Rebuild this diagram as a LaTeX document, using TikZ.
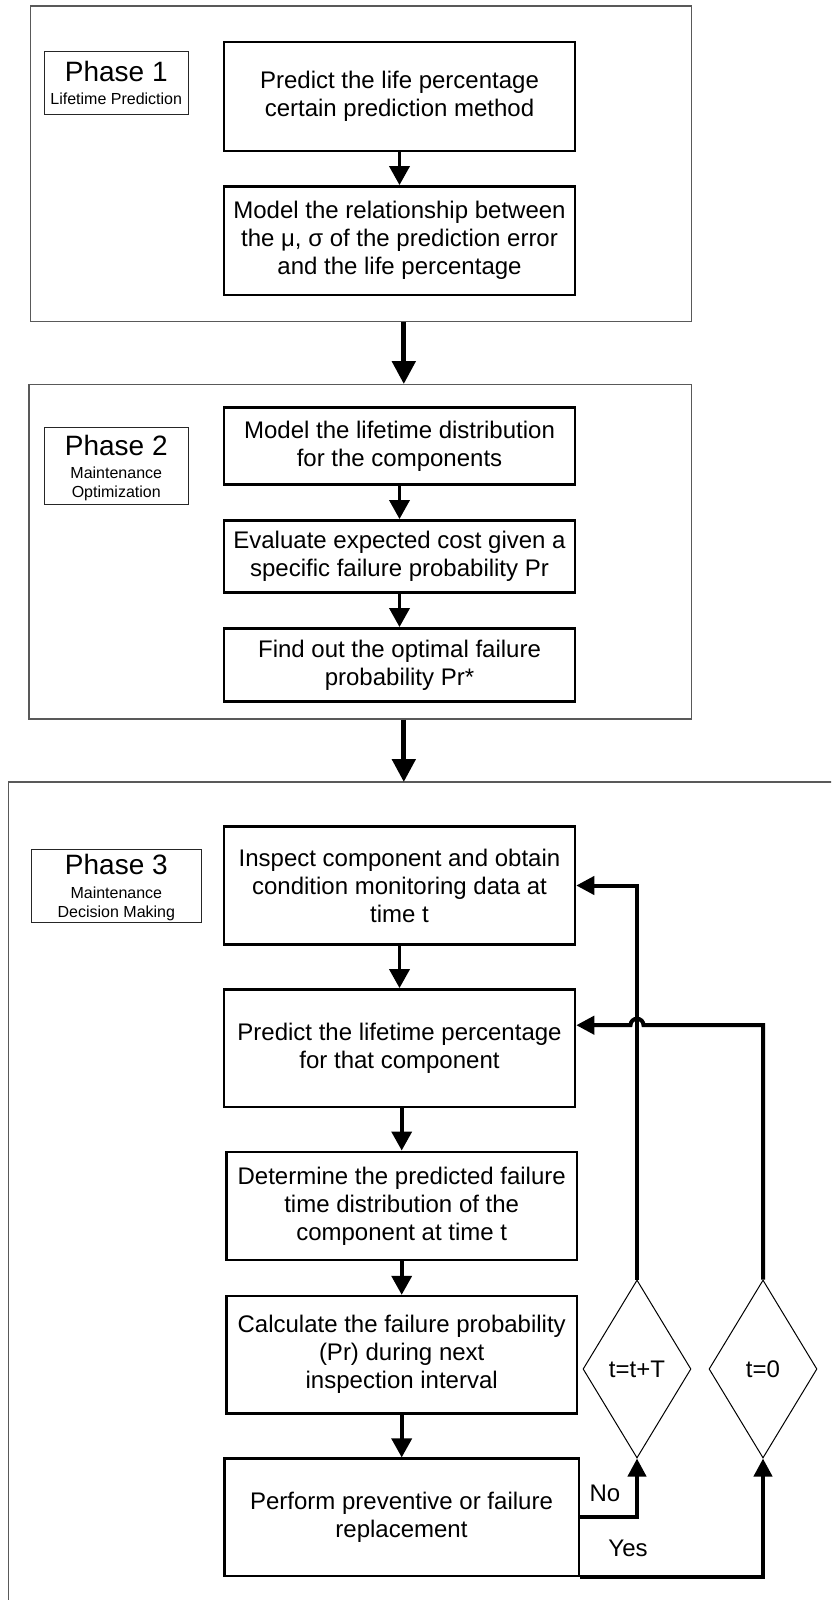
\documentclass[tikz,border=0pt]{standalone}
\usepackage{fontspec}
\setmainfont{Liberation Sans}
\usetikzlibrary{arrows.meta,shapes.geometric,calc}
\begin{document}
\begin{tikzpicture}[x=1pt,y=-1pt,
  box/.style={draw, line width=2.5pt, minimum width=351pt, inner sep=0pt, align=center, font=\fontsize{24}{28}\selectfont},
  phasebox/.style={draw=black!65, line width=1.3pt, inner sep=0pt},
  labbox/.style={draw=black!85, line width=1pt, inner sep=0pt},
  bigtxt/.style={font=\fontsize{28}{32}\selectfont, anchor=base, inner sep=0pt},
  smalltxt/.style={font=\fontsize{16}{19}\selectfont, anchor=base, inner sep=0pt},
  arr/.style={line width=3.7pt, -{Triangle[length=19pt,width=20pt]}},
  fbarr/.style={line width=4pt, -{Triangle[length=18pt,width=18pt]}},
  bigarr/.style={line width=5pt, -{Triangle[length=23pt,width=23pt]}},
  dec/.style={diamond, draw, line width=1pt, inner sep=0pt, minimum width=108pt, minimum height=178pt, font=\fontsize{24}{28}\selectfont},
  lbl/.style={font=\fontsize{24}{28}\selectfont, inner sep=0pt}]
\useasboundingbox (0,0) rectangle (831,1600);
\fill[white] (0,0) rectangle (831,1600);

% Phase containers
\node[phasebox, minimum width=661pt, minimum height=315.7pt] (P1) at (361.15,163.85) {};
\node[phasebox, minimum width=662.5pt, minimum height=334.3pt] (P2) at (360.35,551.85) {};
\begin{scope}
  \clip (0,0) rectangle (831,1600);
  \draw[draw=black!65, line width=1.3pt] (8.5,1660) -- (8.5,782) -- (900,782);
\end{scope}
\coordinate (p3n) at (403.8,782);

% Phase labels
\node[labbox, minimum width=143.5pt, minimum height=63pt] (L1) at (116.25,82.8) {};
\node[bigtxt] (L1a) at (116.25,81.7) {Phase 1};
\node[smalltxt] (L1b) at (116.25,104.7) {Lifetime Prediction};

\node[labbox, minimum width=143.5pt, minimum height=77pt] (L2) at (116.25,466.2) {};
\node[bigtxt] (L2a) at (116.25,455) {Phase 2};
\node[smalltxt] (L2b) at (116.25,478.4) {Maintenance};
\node[smalltxt] (L2c) at (116.25,497.4) {Optimization};

\node[labbox, minimum width=170.1pt, minimum height=73pt] (L3) at (116.35,885.8) {};
\node[bigtxt] (L3a) at (116.35,874.3) {Phase 3};
\node[smalltxt] (L3b) at (116.35,898.4) {Maintenance};
\node[smalltxt] (L3c) at (116.35,917.4) {Decision Making};

% Phase 1 boxes
\node[box, minimum height=108.7pt] (A1) at (399.5,96.4) {Predict the life percentage\\certain prediction method};
\node[box, minimum height=108.7pt] (A2) at (399.5,240.7) {Model the relationship between\\the μ, σ of the prediction error\\and the life percentage};

% Phase 2 boxes
\node[box, minimum height=76.6pt] (B1) at (399.5,446) {Model the lifetime distribution\\for the components};
\node[box, minimum height=72.4pt] (B2) at (399.5,556.5) {Evaluate expected cost given a\\specific failure probability Pr};
\node[box, minimum height=73.4pt] (B3) at (399.5,665) {Find out the optimal failure\\probability Pr*};

% Phase 3 boxes
\node[box, minimum height=117.6pt] (C1) at (399.5,885.5) {Inspect component and obtain\\condition monitoring data at\\time t};
\node[box, minimum height=117.7pt] (C2) at (399.5,1048.2) {Predict the lifetime percentage\\for that component};
\node[box, minimum width=350.7pt, minimum height=108.3pt] (C3) at (401.7,1205.9) {Determine the predicted failure\\time distribution of the\\component at time t};
\node[box, minimum width=350.7pt, minimum height=117.3pt] (C4) at (401.7,1354.7) {Calculate the failure probability\\(Pr) during next\\inspection interval};
\node[box, minimum width=354.5pt, minimum height=117.3pt] (C5) at (401.5,1517.3) {Perform preventive or failure\\replacement};

% Decisions
\node[dec] (D1) at (637,1369) {t=t+T};
\node[dec] (D2) at (763,1369) {t=0};

% Connectors inside phases
\draw[arr] (A1) -- (A2);
\draw[arr] (B1) -- (B2);
\draw[arr] (B2) -- (B3);
\draw[arr] (C1) -- (C2);
\draw[arr] (C3.north |- C2.south) -- (C3.north);
\draw[arr] (C3) -- (C4);
\draw[arr] (C4.south) -- (C4.south |- C5.north);

% Phase arrows
\coordinate (ax) at ([xshift=4.3pt]A2.south);
\draw[bigarr] (ax |- P1.south) -- (ax |- P2.north);
\draw[bigarr] (ax |- P2.south) -- (p3n);

% Feedback loops
\draw[fbarr] (D1.north) |- (C1.east);
\coordinate (c2in) at ([yshift=23pt]C2.east);
\coordinate (hop) at (D1.north |- c2in);
\draw[fbarr] (D2.north) |- ([xshift=6.5pt]hop) arc[start angle=0,end angle=180,radius=6.5pt] -- (c2in);

% Decision outputs
\draw[fbarr] (C5.east) -| (D1.south);
\draw[fbarr] (C5.south east) -| (D2.south);
\node[lbl] (no) at (605,1493.3) {No};
\node[lbl] (yes) at (628,1548.3) {Yes};
\end{tikzpicture}
\end{document}
